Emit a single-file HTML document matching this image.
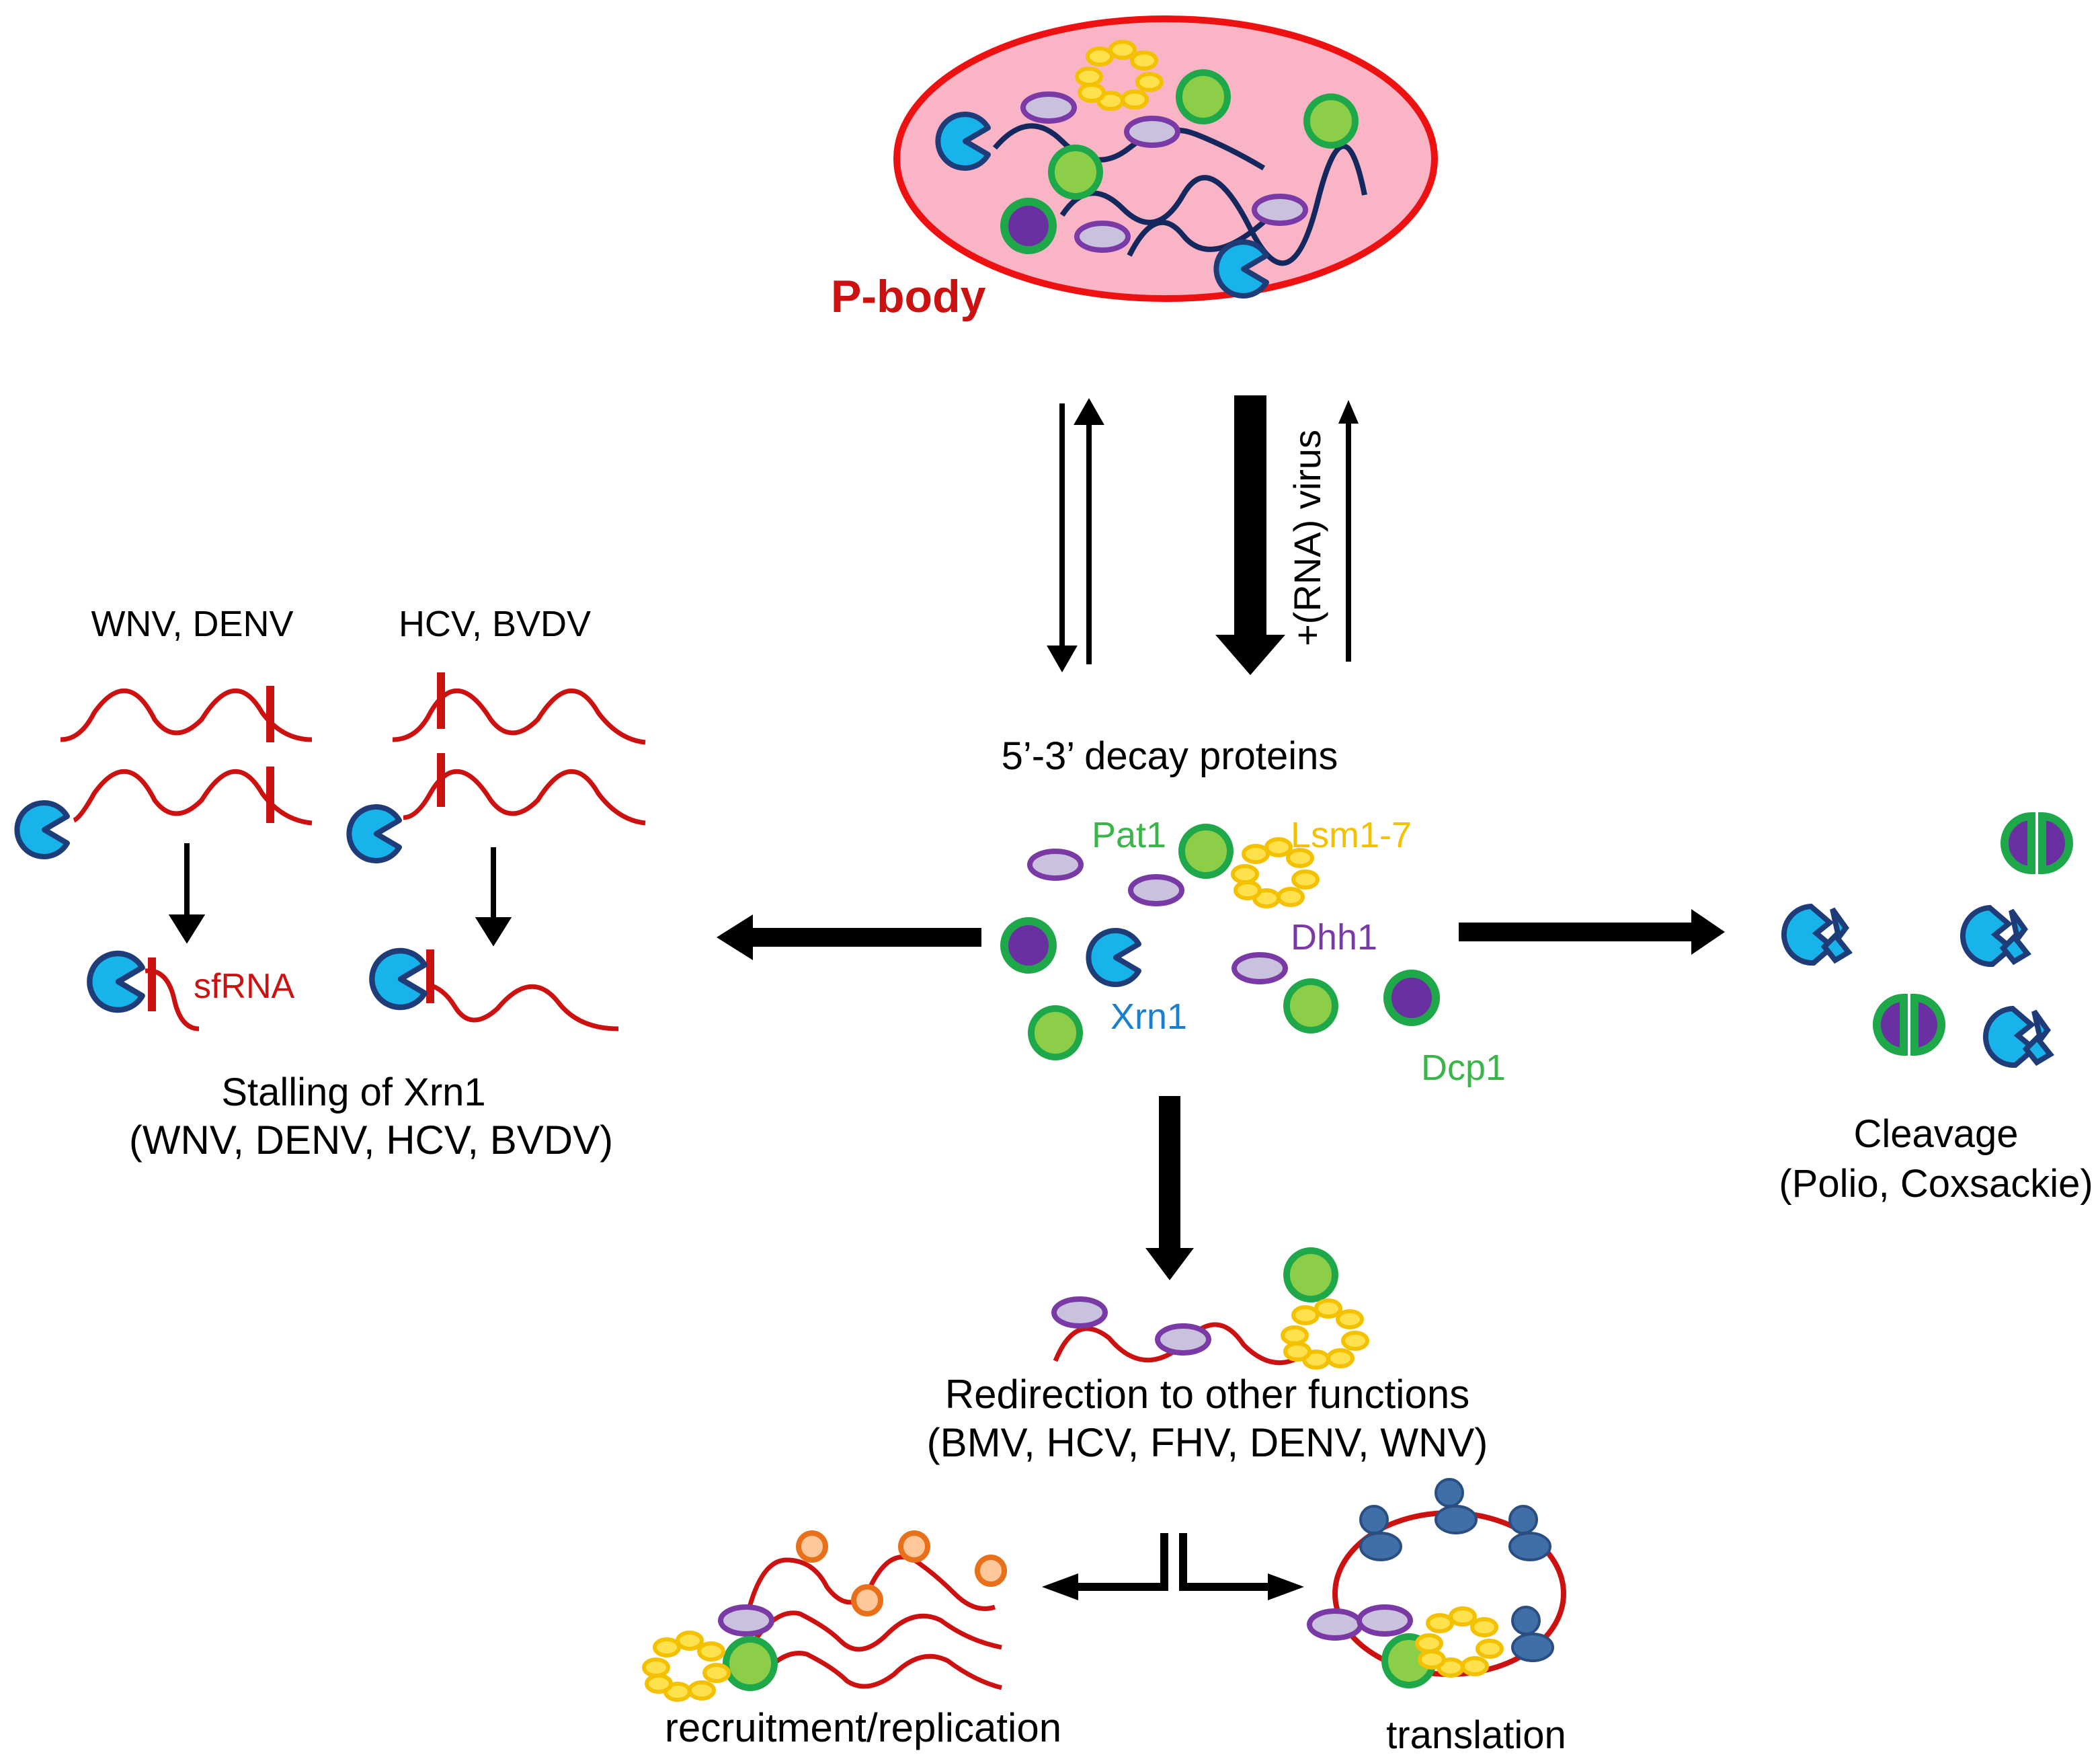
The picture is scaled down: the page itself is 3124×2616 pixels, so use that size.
<!DOCTYPE html>
<html><head><meta charset="utf-8"><style>html,body{margin:0;padding:0;background:#fff}svg{display:block}</style></head>
<body>
<svg width="3124" height="2616" viewBox="0 0 1562 1308" xmlns="http://www.w3.org/2000/svg" font-family="Liberation Sans, Arial, sans-serif">
<defs>
<g id="pac"><path d="M0,0 L17,-10 A20,20 0 1 0 17,10 Z" fill="#17b3ea" stroke="#1d3c78" stroke-width="4" stroke-linejoin="round"/></g>
<g id="gc"><circle r="18" fill="#8dce48" stroke="#1ea84a" stroke-width="5"/></g>
<g id="pc"><circle r="18" fill="#6a2fa0" stroke="#1ea84a" stroke-width="6"/></g>
<g id="ov"><ellipse rx="19" ry="10" fill="#c9c1dd" stroke="#7a3aa6" stroke-width="4"/></g>
<g id="ls" fill="#ffe14d" stroke="#f4c100" stroke-width="3">
<ellipse cx="-22" cy="0" rx="9" ry="6"/><ellipse cx="-14" cy="-15" rx="9" ry="6"/><ellipse cx="3" cy="-20" rx="9" ry="6"/><ellipse cx="19" cy="-12" rx="9" ry="6"/><ellipse cx="23" cy="4" rx="9" ry="6"/><ellipse cx="12" cy="17" rx="9" ry="6"/><ellipse cx="-6" cy="18" rx="9" ry="6"/><ellipse cx="-20" cy="12" rx="9" ry="6"/>
</g>
<g id="half"><path d="M-4,-20 A20,20 0 0 0 -4,20 Z" fill="#6a2fa0" stroke="#1ea84a" stroke-width="6"/><path d="M4,-20 A20,20 0 0 1 4,20 Z" fill="#6a2fa0" stroke="#1ea84a" stroke-width="6"/></g>
<g id="brk"><path d="M-8,-20 L6,-8 L-4,0 L8,10 L-6,22 A20,20 0 0 1 -8,-20 Z" fill="#17b3ea" stroke="#1d3c78" stroke-width="4"/><path d="M8,-18 L18,-4 L12,4 L20,14 L10,20 L2,10 L12,0 Z" fill="#17b3ea" stroke="#1d3c78" stroke-width="4"/></g>
</defs>

<!-- P-body -->
<ellipse cx="867" cy="118" rx="200" ry="104" fill="#f9b4c6" stroke="#ee1111" stroke-width="5"/>
<path d="M740,110 Q765,80 790,105 T840,110 T890,100 T940,125 M790,160 Q810,130 835,155 T880,145 T930,170 T980,150 T1015,145" fill="none" stroke="#14285e" stroke-width="4"/>
<path d="M840,190 Q860,150 880,175 T940,165" fill="none" stroke="#14285e" stroke-width="4"/>
<use href="#pac" x="718" y="105"/>
<use href="#pac" x="925" y="200"/>
<use href="#ls" x="832" y="57"/>
<use href="#gc" x="895" y="72"/><use href="#gc" x="990" y="90"/><use href="#gc" x="800" y="128"/><use href="#pc" x="765" y="168"/>
<use href="#ov" x="780" y="80"/><use href="#ov" x="857" y="98"/><use href="#ov" x="820" y="176"/><use href="#ov" x="952" y="156"/>
<text x="618" y="232" font-size="34" font-weight="bold" fill="#cc1111">P-body</text>

<!-- vertical arrows -->
<g stroke="#000" stroke-width="4" fill="#000">
<line x1="790" y1="300" x2="790" y2="484"/><path d="M782,482 L798,482 L790,496 Z"/>
<line x1="810" y1="494" x2="810" y2="312"/><path d="M802,314 L818,314 L810,300 Z"/>
<line x1="1003" y1="492" x2="1003" y2="312"/><path d="M997,314 L1009,314 L1003,300 Z" stroke-width="2"/>
</g>
<path d="M918,294 L942,294 L942,472 L956,472 L930,502 L904,472 L918,472 Z" fill="#000"/>
<text transform="translate(982,400) rotate(-90)" font-size="28" text-anchor="middle">+(RNA) virus</text>

<text x="870" y="572" font-size="29" text-anchor="middle">5’-3’ decay proteins</text>

<!-- center cluster -->
<use href="#ov" x="785" y="643"/><use href="#ov" x="860" y="662"/><use href="#ov" x="937" y="720"/>
<use href="#gc" x="897" y="633"/><use href="#ls" x="948" y="650"/>
<use href="#pc" x="765" y="703"/><use href="#pac" x="830" y="712"/>
<use href="#gc" x="785" y="768"/><use href="#gc" x="975" y="748"/><use href="#pc" x="1050" y="742"/>
<text x="812" y="630" font-size="27" fill="#3ab54a">Pat1</text>
<text x="960" y="630" font-size="27" fill="#f4c100">Lsm1-7</text>
<text x="960" y="706" font-size="27" fill="#7a3aa6">Dhh1</text>
<text x="826" y="765" font-size="27" fill="#1b7fd0">Xrn1</text>
<text x="1057" y="803" font-size="27" fill="#3ab54a">Dcp1</text>

<!-- big arrows -->
<path d="M730,690 L560,690 L560,680 L533,697 L560,714 L560,704 L730,704 Z" fill="#000"/>
<path d="M1085,686 L1258,686 L1258,676 L1283,693 L1258,710 L1258,700 L1085,700 Z" fill="#000"/>
<path d="M862,815 L878,815 L878,928 L888,928 L870,952 L852,928 L862,928 Z" fill="#000"/>

<!-- left panel -->
<text x="143" y="473" font-size="27" text-anchor="middle">WNV, DENV</text>
<text x="368" y="473" font-size="27" text-anchor="middle">HCV, BVDV</text>
<g fill="none" stroke="#cc1111" stroke-width="3.5">
<path d="M45,550 Q60,550 70,530 Q95,495 115,535 Q130,555 150,535 Q175,495 195,530 Q210,550 232,550"/>
<path d="M55,610 Q60,608 70,590 Q95,555 115,595 Q130,615 150,595 Q175,555 195,590 Q210,610 232,612"/>
<path d="M292,550 Q310,550 320,530 Q340,495 365,535 Q380,555 400,535 Q425,495 445,530 Q460,550 480,552"/>
<path d="M300,608 Q310,608 320,590 Q340,555 365,595 Q380,615 400,595 Q425,555 445,590 Q460,610 480,612"/>
<path d="M108,722 Q125,720 130,745 Q135,765 148,765"/>
<path d="M318,732 Q330,735 338,748 Q350,768 370,750 Q395,720 415,745 Q430,765 460,765"/>
</g>
<g stroke="#cc1111" stroke-width="6"><line x1="201" y1="510" x2="201" y2="552"/><line x1="201" y1="570" x2="201" y2="612"/><line x1="328" y1="500" x2="328" y2="542"/><line x1="328" y1="560" x2="328" y2="600"/><line x1="113" y1="712" x2="113" y2="752"/><line x1="320" y1="706" x2="320" y2="746"/></g>
<use href="#pac" x="33" y="617"/><use href="#pac" x="280" y="620"/>
<use href="#pac" transform="translate(88,730) scale(1.05)"/><use href="#pac" transform="translate(298,728) scale(1.05)"/>
<g stroke="#000" stroke-width="4" fill="#000">
<line x1="139" y1="627" x2="139" y2="684"/><path d="M129,682 L149,682 L139,698 Z"/>
<line x1="367" y1="630" x2="367" y2="686"/><path d="M357,684 L377,684 L367,700 Z"/>
</g>
<text x="144" y="742" font-size="26" fill="#cc1111">sfRNA</text>
<text x="263" y="822" font-size="29" text-anchor="middle">Stalling of Xrn1</text>
<text x="276" y="858" font-size="30" text-anchor="middle">(WNV, DENV, HCV, BVDV)</text>

<!-- right panel -->
<use href="#half" x="1515" y="627"/><use href="#half" x="1420" y="762"/>
<use href="#brk" x="1355" y="694"/><use href="#brk" x="1488" y="695"/><use href="#brk" x="1505" y="770"/>
<text x="1440" y="853" font-size="29" text-anchor="middle">Cleavage</text>
<text x="1440" y="890" font-size="29" text-anchor="middle">(Polio, Coxsackie)</text>

<!-- redirection -->
<path d="M785,1012 Q800,975 825,995 Q850,1025 880,1000 Q905,970 925,1000 Q945,1020 965,1010" fill="none" stroke="#cc1111" stroke-width="3.5"/>
<use href="#ov" x="803" y="976"/><use href="#ov" x="880" y="996"/>
<use href="#gc" x="975" y="948"/><use href="#ls" x="985" y="993"/>
<text x="898" y="1047" font-size="30" text-anchor="middle">Redirection to other functions</text>
<text x="898" y="1083" font-size="30" text-anchor="middle">(BMV, HCV, FHV, DENV, WNV)</text>

<!-- split arrows -->
<path d="M866,1140 L866,1180 L800,1180" fill="none" stroke="#000" stroke-width="6"/>
<path d="M802,1170 L775,1180 L802,1190 Z" fill="#000"/>
<path d="M880,1140 L880,1180 L945,1180" fill="none" stroke="#000" stroke-width="6"/>
<path d="M943,1170 L970,1180 L943,1190 Z" fill="#000"/>

<!-- recruitment -->
<g fill="none" stroke="#cc1111" stroke-width="3.5">
<path d="M555,1205 Q565,1160 585,1160 Q605,1160 615,1180 Q630,1200 645,1185 Q660,1150 680,1160 Q695,1170 710,1185 Q725,1200 740,1195"/>
<path d="M555,1230 Q575,1195 595,1200 Q615,1210 625,1220 Q640,1235 660,1215 Q680,1195 700,1205 Q720,1220 745,1225"/>
<path d="M560,1255 Q580,1225 600,1230 Q620,1240 630,1250 Q645,1260 665,1245 Q685,1225 705,1235 Q725,1250 745,1255"/>
</g>
<g fill="#ffc89a" stroke="#e8701a" stroke-width="4"><circle cx="604" cy="1150" r="10"/><circle cx="680" cy="1150" r="10"/><circle cx="737" cy="1168" r="10"/><circle cx="645" cy="1190" r="10"/></g>
<use href="#ov" x="555" y="1205"/><use href="#gc" x="558" y="1237"/><use href="#ls" x="510" y="1240"/>
<text x="642" y="1295" font-size="30" text-anchor="middle">recruitment/replication</text>

<!-- translation -->
<ellipse cx="1078" cy="1185" rx="85" ry="60" fill="none" stroke="#cc1111" stroke-width="4"/>
<g fill="#3f6fa6" stroke="#2a4e80" stroke-width="2">
<circle cx="1022" cy="1130" r="10"/><ellipse cx="1027" cy="1150" rx="15" ry="10"/>
<circle cx="1078" cy="1110" r="10"/><ellipse cx="1083" cy="1130" rx="15" ry="10"/>
<circle cx="1133" cy="1130" r="10"/><ellipse cx="1138" cy="1150" rx="15" ry="10"/>
<circle cx="1135" cy="1205" r="10"/><ellipse cx="1140" cy="1225" rx="15" ry="10"/>
</g>
<use href="#ov" x="993" y="1208"/><use href="#ov" x="1030" y="1205"/>
<use href="#gc" x="1048" y="1235"/><use href="#ls" x="1085" y="1222"/>
<text x="1098" y="1300" font-size="29" text-anchor="middle">translation</text>
</svg>
</body></html>
